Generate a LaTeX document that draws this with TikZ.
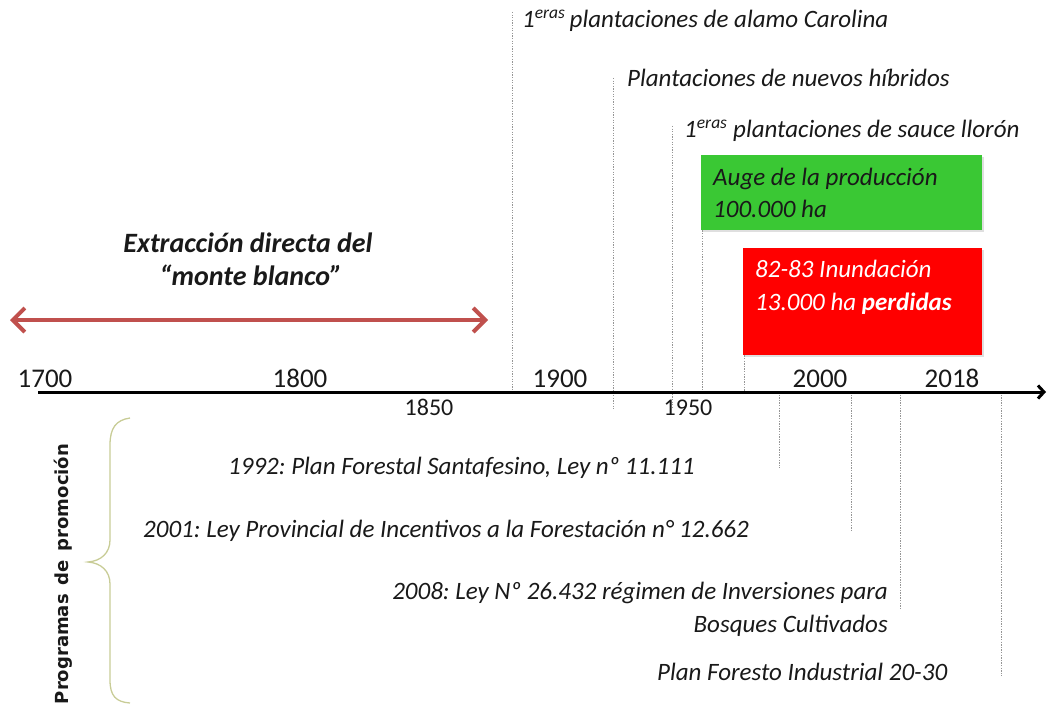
\documentclass[tikz,border=0pt]{standalone}
\usepackage{fontspec}
\setmainfont{Carlito}
\newfontfamily\progfont{DejaVu Sans}
\usetikzlibrary{arrows.meta,shadows}
\definecolor{boxgreen}{RGB}{58,200,52}
\definecolor{arrowred}{RGB}{192,80,77}
\definecolor{bracecol}{RGB}{200,204,150}
\definecolor{guide}{RGB}{150,150,150}
\definecolor{txt}{RGB}{25,25,25}
\frenchspacing
\begin{document}
\begin{tikzpicture}[x=1pt,y=-1pt,
  guideline/.style={guide, line width=0.7pt, dash pattern=on 1.3pt off 1.3pt},
  yearbig/.style={font=\fontsize{27}{31}\selectfont, anchor=base, inner sep=0, text=txt},
  yearsmall/.style={font=\fontsize{24}{28}\selectfont, anchor=base, inner sep=0, text=txt},
  event/.style={font=\fontsize{25}{29}\selectfont\itshape, anchor=base west, inner sep=0, text=txt},
  law/.style={font=\fontsize{25}{29}\selectfont\itshape, inner sep=0, text=txt},
  boxtext/.style={font=\fontsize{25}{29}\selectfont\itshape, anchor=base west, inner sep=0},
  exttext/.style={font=\fontsize{28}{32}\selectfont\bfseries\itshape, anchor=base, inner sep=0, text=txt},
  colbox/.style={anchor=north west, inner sep=0, minimum width=#1},
  ]
\useasboundingbox (0,0) rectangle (1048,708);

% ---- extraction arrow
\node[exttext] (ext1) at (248,253) {Extracción directa del};
\node[exttext] (ext2) at (251,286) {“monte blanco”};
\coordinate (exS) at (10,320);
\coordinate (exE) at (488,320);
\draw[arrowred, line width=4pt, {Straight Barb[length=12pt,width=24pt]}-{Straight Barb[length=12pt,width=24pt]}] (exS) -- (exE);

% ---- boxes
\node[colbox=281pt, minimum height=75pt, fill=boxgreen, drop shadow={opacity=0.25, shadow xshift=1.5pt, shadow yshift=-1.5pt}] (auge) at (701,155) {};
\node[boxtext, text=txt] (auge1) at (713,186) {Auge de la producción};
\node[boxtext, text=txt] (auge2) at (713,218) {100.000 ha};
\node[colbox=239pt, minimum height=107pt, fill=red, drop shadow={opacity=0.25, shadow xshift=1.5pt, shadow yshift=-1.5pt}] (inund) at (743,248) {};
\node[boxtext, text=white] (inund1) at (755,278) {82-83 Inundación};
\node[boxtext, text=white] (inund2) at (755,310) {13.000 ha \textbf{perdidas}};

% ---- top events
\node[event] (carolina) at (522,28) {1\textsuperscript{eras}\,plantaciones de alamo Carolina};
\node[event] (hibridos) at (627,87) {Plantaciones de nuevos híbridos};
\node[event] (sauce) at (684,138) {1\textsuperscript{eras} plantaciones de sauce llorón};

% ---- guide lines above axis
\coordinate (g1t) at (512,12);   \coordinate (g1b) at (512,392);
\coordinate (g2t) at (613,78);   \coordinate (g2b) at (613,410);
\coordinate (g3t) at (672,126);  \coordinate (g3b) at (672,408);
\coordinate (g4b) at (702,392);
\coordinate (g5b) at (744,392);
\draw[guideline] (g1t) -- (g1b);
\draw[guideline] (g2t) -- (g2b);
\draw[guideline] (g3t) -- (g3b);
\draw[guideline] (auge.south west -| g4b) -- (g4b);
\draw[guideline] (inund.south west -| g5b) -- (g5b);

% ---- guide lines below axis
\coordinate (h1t) at (779,392);  \coordinate (h1b) at (779,468);
\coordinate (h2t) at (851,392);  \coordinate (h2b) at (851,530);
\coordinate (h3t) at (900,392);  \coordinate (h3b) at (900,608);
\coordinate (h4t) at (1001,392); \coordinate (h4b) at (1001,676);
\draw[guideline] (h1t) -- (h1b);
\draw[guideline] (h2t) -- (h2b);
\draw[guideline] (h3t) -- (h3b);
\draw[guideline] (h4t) -- (h4b);

% ---- axis
\coordinate (axS) at (38,392);
\coordinate (axE) at (1046,392);
\draw[line width=3pt, -{Straight Barb[length=6pt,width=13pt]}] (axS) -- (axE);

\node[yearbig] (y1700) at (45,387) {1700};
\node[yearbig] (y1800) at (300,387) {1800};
\node[yearsmall] (y1850) at (429,415) {1850};
\node[yearbig] (y1900) at (560,387) {1900};
\node[yearsmall] (y1950) at (688,415) {1950};
\node[yearbig] (y2000) at (820,387) {2000};
\node[yearbig] (y2018) at (952,387) {2018};

% ---- laws
\node[law, anchor=base west] (l1992) at (228,474) {1992: Plan Forestal Santafesino, Ley nº 11.111};
\node[law, anchor=base west] (l2001) at (143,537) {2001: Ley Provincial de Incentivos a la Forestación n° 12.662};
\node[law, anchor=base east] (l2008a) at (888,599) {2008: Ley Nº 26.432 régimen de Inversiones para};
\node[law, anchor=base east] (l2008b) at (888,632) {Bosques Cultivados};
\node[law, anchor=base west] (l2030) at (657,680) {Plan Foresto Industrial 20-30};

% ---- brace and label
\draw[bracecol, line width=1.3pt] (130,418) .. controls (116,420) and (110,428) .. (110,445) -- (110,540) .. controls (110,553) and (101,561) .. (88,562) .. controls (101,563) and (110,571) .. (110,584) -- (110,680) .. controls (110,696) and (116,702) .. (130,703);
\node[rotate=90, font=\progfont\bfseries\fontsize{18}{22}\selectfont, text=txt, inner sep=0] (prog) at (63,574) {Programas\hspace{0.15em} de\hspace{0.15em} promoción};
\end{tikzpicture}
\end{document}
